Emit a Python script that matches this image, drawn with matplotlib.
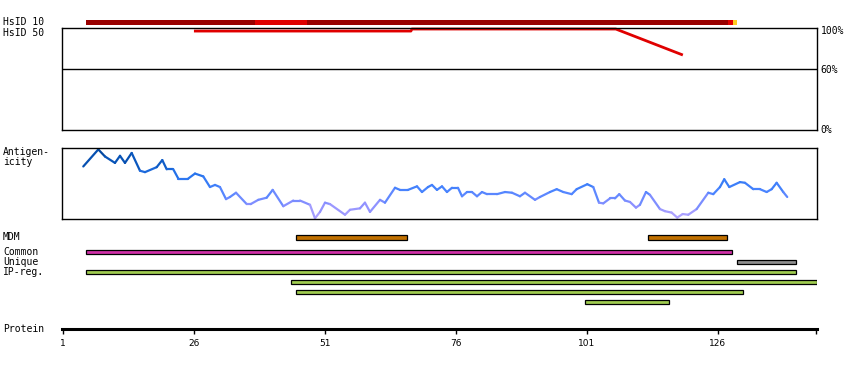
import numpy as np
import matplotlib.pyplot as plt
from matplotlib.collections import LineCollection
from matplotlib.colors import LinearSegmentedColormap

# residue axis
protein_len = 144.9
tick_pos = [1, 26, 51, 76, 101, 126]

# HsID 10 coverage bar: segment edges (residues) and colours
hsid10_edges = [5.39, 37.64, 47.56, 127.85, 128.80, 129.63]
hsid10_colors = ['#990000', '#e00000', '#990000', '#e00000', '#ffcc22']

# HsID 50 identity line (residue, % identity)
hsid50_res = [5.39 + 20.6, 67.4, 67.6, 106.5, 119.3]
hsid50_val = [97, 97, 99, 99, 73.5]

# antigenicity profile (residue, score 0..1)
ant_res = [4.87, 7.74, 9.02, 10.92, 11.88, 12.83, 14.11, 15.69, 16.65, 18.88,
           19.95, 20.79, 22.05, 23.0, 24.91, 26.19, 27.77, 29.05, 30.01, 30.96,
           32.11, 32.87, 34.02, 36.06, 36.82, 38.27, 39.87, 41.02, 43.04, 44.95,
           46.23, 48.14, 49.09, 50.05, 51.0, 51.95, 54.82, 55.77, 57.68, 58.63,
           59.59, 61.50, 62.45, 64.36, 65.31, 66.84, 68.56, 69.51, 70.66, 71.42,
           72.37, 73.33, 74.28, 75.24, 76.38, 77.15, 78.10, 79.05, 80.01, 80.96,
           81.92, 83.82, 85.35, 86.69, 88.21, 89.17, 91.08, 92.03, 93.94, 95.22,
           96.48, 98.08, 99.03, 101.06, 102.20, 103.29, 104.11, 105.39, 106.34, 107.16,
           108.25, 109.21, 110.35, 111.11, 112.26, 113.02, 114.93, 115.89, 117.16, 118.23,
           119.26, 120.33, 121.93, 124.15, 125.10, 126.38, 127.20, 128.16, 130.20, 131.15,
           132.74, 134.02, 135.29, 136.25, 137.20, 138.46, 139.22]
ant_val = [0.74, 0.98, 0.88, 0.79, 0.89, 0.79, 0.93, 0.68, 0.66, 0.73,
           0.83, 0.70, 0.70, 0.57, 0.57, 0.64, 0.60, 0.45, 0.48, 0.45,
           0.28, 0.31, 0.37, 0.21, 0.21, 0.27, 0.30, 0.41, 0.18, 0.26,
           0.26, 0.20, 0.01, 0.10, 0.23, 0.21, 0.06, 0.13, 0.15, 0.23,
           0.10, 0.27, 0.23, 0.44, 0.41, 0.41, 0.46, 0.38, 0.45, 0.48,
           0.41, 0.46, 0.38, 0.44, 0.44, 0.32, 0.38, 0.38, 0.32, 0.38,
           0.35, 0.35, 0.38, 0.37, 0.32, 0.37, 0.27, 0.31, 0.38, 0.42,
           0.38, 0.35, 0.42, 0.49, 0.45, 0.23, 0.22, 0.29, 0.29, 0.35,
           0.26, 0.24, 0.16, 0.20, 0.38, 0.34, 0.14, 0.11, 0.09, 0.02,
           0.07, 0.06, 0.14, 0.37, 0.35, 0.45, 0.56, 0.45, 0.52, 0.51,
           0.42, 0.42, 0.38, 0.42, 0.51, 0.38, 0.31]

# feature bars: (label row, start, end, colour)
bar_rows = [0, 0, 1.46, 2.46, 3.46, 4.46, 5.46, 6.46]
bar_start = [45.52, 112.70, 5.39, 129.68, 5.39, 44.57, 45.52, 100.68]
bar_end = [66.71, 127.77, 128.73, 140.83, 140.83, 144.84, 130.83, 116.71]
bar_colors = ['#c07000', '#c07000', '#d030a8', '#909090',
              '#a0cc50', '#a0cc50', '#a0cc50', '#a0cc50']

row_labels = ['HsID 10', 'HsID 50', 'MDM', 'Common', 'Unique', 'IP-reg.', 'Protein']
row_label_y = [22, 33, 237, 252, 262, 272, 329]

W, H = 850, 370
fig = plt.figure(figsize=(W / 100, H / 100), dpi=100)
XL = (0.81, protein_len)
mono = 'DejaVu Sans Mono'


def add_ax(x0, y0, x1, y1):
    return fig.add_axes([x0 / W, 1 - y1 / H, (x1 - x0) / W, (y1 - y0) / H])


# HsID 10 bar
a10 = add_ax(62, 20, 817, 25)
a10.set_xlim(XL)
a10.set_ylim(0, 1)
a10.axis('off')
for i in range(len(hsid10_colors)):
    a10.barh(0.5, hsid10_edges[i + 1] - hsid10_edges[i], left=hsid10_edges[i],
             height=1, color=hsid10_colors[i], linewidth=0)

# identity panel
aid = add_ax(62, 28, 817, 130)
aid.set_xlim(XL)
aid.set_ylim(0, 100)
aid.set_xticks([])
aid.set_yticks([])
for s in aid.spines.values():
    s.set_linewidth(1.0)
aid.axhline(60, color='black', lw=1.0)
aid.plot(hsid50_res, hsid50_val, color='#e00000', lw=2, clip_on=False,
         solid_capstyle='butt')
for v, t in [(97, '100%'), (59, '60%'), (0, '0%')]:
    aid.text(1.005, v / 100, t, transform=aid.transAxes, fontsize=7,
             family=mono, va='center', ha='left')

# antigenicity panel
aan = add_ax(62, 148, 817, 219)
aan.set_xlim(XL)
aan.set_ylim(0, 1)
aan.set_xticks([])
aan.set_yticks([])
for s in aan.spines.values():
    s.set_linewidth(1.0)
cmap = LinearSegmentedColormap.from_list(
    'ant', ['#b8a8ff', '#8c90ff', '#4a84ff', '#2a76f0', '#0a58c0', '#004090'])
pts = np.column_stack([ant_res, ant_val]).reshape(-1, 1, 2)
segs = np.concatenate([pts[:-1], pts[1:]], axis=1)
mid = (np.array(ant_val[:-1]) + np.array(ant_val[1:])) / 2
lc = LineCollection(segs, cmap=cmap, linewidths=1.6, capstyle='round')
lc.set_array(mid)
lc.set_clim(0, 1)
aan.add_collection(lc)

# feature bars
ab = add_ax(62, 232, 817, 306)
ab.set_xlim(XL)
ab.set_ylim(6.84, -0.56)
ab.axis('off')
ab.barh(bar_rows, np.array(bar_end) - np.array(bar_start), left=bar_start,
        height=0.43, color=bar_colors, edgecolor='black', linewidth=0.9)

# protein axis
ap = add_ax(62, 300, 817, 329)
ap.set_xlim(XL)
ap.set_yticks([])
for k in ['top', 'left', 'right']:
    ap.spines[k].set_visible(False)
ap.spines['bottom'].set_linewidth(2.2)
ap.patch.set_alpha(0)
ap.set_xticks(tick_pos + [protein_len - 0.1])
ap.set_xticklabels([str(t) for t in tick_pos] + [''])
ap.tick_params(axis='x', direction='out', length=3.5, width=1, pad=4,
               labelsize=6.5)

# row labels
for t, y in zip(row_labels, row_label_y):
    fig.text(3 / W, 1 - y / H, t, fontsize=7, family=mono, va='center', ha='left')
fig.text(3 / W, 1 - 147 / H, 'Antigen-\nicity', fontsize=7, family=mono,
         va='top', ha='left', linespacing=1.0)

fig.savefig('out.png', dpi=100)
